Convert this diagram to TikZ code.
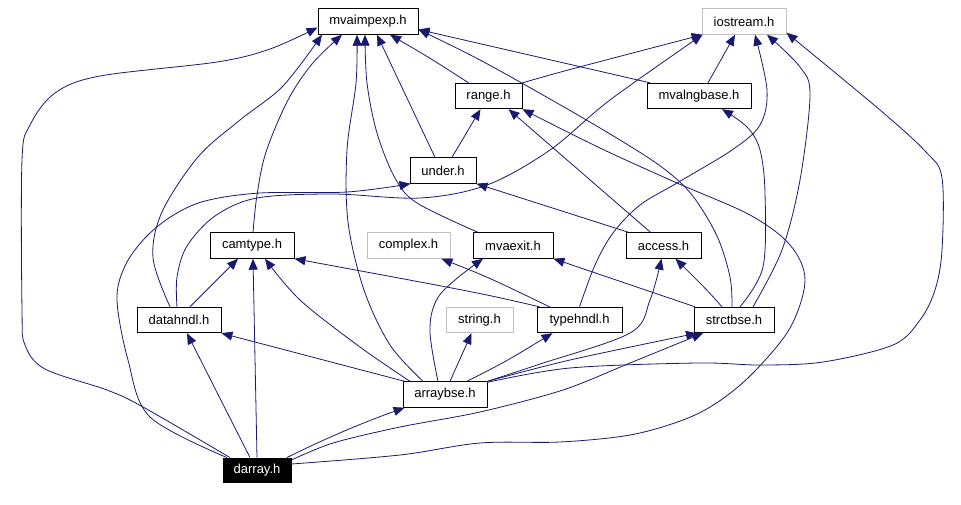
\documentclass[tikz,border=0pt]{standalone}
\usepackage{fontspec}
\setmainfont{Liberation Sans}
\usetikzlibrary{arrows.meta}
\definecolor{edgec}{HTML}{191970}
\definecolor{grayc}{HTML}{BFBFBF}
\tikzset{
  box/.style={draw=black, line width=0.9pt, fill=white, rectangle, minimum height=25.5pt, inner sep=0pt, font=\fontsize{13}{15}\selectfont},
  gbox/.style={box, draw=grayc},
  dbox/.style={box, fill=black, text=white},
  edge/.style={draw=edgec, line width=0.8pt, -{Triangle[length=11pt,width=9pt]}},
}
\begin{document}
\begin{tikzpicture}[x=1pt,y=-1pt]
\useasboundingbox (0,0) rectangle (961,504);
% nodes
\node[box, minimum width=100pt] (mvaimpexp) at (368,21.5) {mvaimpexp.h};
\node[gbox, minimum width=84pt] (iostream) at (744,21.5) {iostream.h};
\node[box, minimum width=67pt] (range) at (488.5,96) {range.h};
\node[box, minimum width=104pt] (mvalngbase) at (699,96) {mvalngbase.h};
\node[box, minimum width=66pt] (under) at (443,170.5) {under.h};
\node[box, minimum width=84pt] (camtype) at (252,245.5) {camtype.h};
\node[gbox, minimum width=83pt] (complex) at (408.5,245.5) {complex.h};
\node[box, minimum width=80pt] (mvaexit) at (513,245.5) {mvaexit.h};
\node[box, minimum width=75pt] (access) at (663.5,245.5) {access.h};
\node[box, minimum width=84pt] (datahndl) at (179,320) {datahndl.h};
\node[gbox, minimum width=67pt] (string) at (479.5,320) {string.h};
\node[box, minimum width=85pt] (typehndl) at (579.5,320) {typehndl.h};
\node[box, minimum width=80pt] (strctbse) at (734,320) {strctbse.h};
\node[box, minimum width=84pt] (arraybse) at (445,394.5) {arraybse.h};
\node[dbox, minimum width=68pt, minimum height=24pt] (darray) at (257,470) {darray.h};

% darray.h
\draw[edge] plot[smooth, tension=0.55] coordinates {([xshift=-27pt]darray.north) (143,407) (107,390) (45,369) (25,345) (22,310) (22,160) (30,125) (55,93) (100,76) (217,62) (270,49) ([yshift=-6pt]mvaimpexp.west)};
\draw[edge] plot[smooth, tension=0.55] coordinates {([xshift=-30pt]darray.north) (150,417) (128,360) (117,300) (125,266) (145,238) (172,216) (205,201) (260,193) (347,192) ([xshift=1pt]under.south west)};
\draw[edge] ([xshift=-7pt]darray.north) -- ([xshift=8pt]datahndl.south);
\draw[edge] (darray.north) -- ([xshift=1pt]camtype.south);
\draw[edge] ([xshift=30pt]darray.north) .. controls (330,436) and (370,420) .. ([xshift=2pt]arraybse.south west);
\draw[edge] plot[smooth, tension=0.5] coordinates {([yshift=10pt]darray.east) (333,443) (400,427) (480,412) (563,390) (630,363) ([xshift=-31pt]strctbse.south)};
\draw[edge] plot[smooth, tension=0.55] coordinates {([yshift=6pt]darray.east) (400,455) (480,443) (560,442) (630,435) (683,420) (718,402) (753,373) (790,328) (805,280) (790,245) (750,215) (677,183) (600,148) (range.south east)};

% datahndl.h
\draw[edge] plot[smooth, tension=0.55] coordinates {([xshift=-9pt]datahndl.north) (153,258) (162,212) (198,157) (240,120) (283,86) ([xshift=-46pt]mvaimpexp.south)};
\draw[edge] ([xshift=11pt]datahndl.north) -- ([xshift=-14pt]camtype.south);
\draw[edge] plot[smooth, tension=0.55] coordinates {([xshift=-2pt]datahndl.north) (177,277) (187,246) (215,216) (257,198) (333,194) (420,198) (487,185) (550,150) (610,100) ([xshift=1pt]iostream.south west)};

% camtype.h
\draw[edge] plot[smooth, tension=0.55] coordinates {([xshift=1pt]camtype.north) (257,195) (266,152) (288,100) (312,64) ([xshift=-26pt]mvaimpexp.south)};

% arraybse.h
\draw[edge] plot[smooth, tension=0.55] coordinates {([xshift=-22pt]arraybse.north) (390,345) (364,290) (348,222) (347,150) (356,83) ([xshift=-11pt]mvaimpexp.south)};
\draw[edge] ([xshift=2pt]arraybse.north west) -- (datahndl.south east);
\draw[edge] plot[smooth, tension=0.55] coordinates {([xshift=-35pt]arraybse.north) (360,347) (300,300) ([xshift=13pt]camtype.south)};
\draw[edge] plot[smooth, tension=0.6] coordinates {([xshift=-7pt]arraybse.north) (430,332) (436,301) (455,280) ([xshift=-30pt]mvaexit.south)};
\draw[edge] ([xshift=5pt]arraybse.north) -- ([xshift=-8pt]string.south);
\draw[edge] ([xshift=22pt]arraybse.north) .. controls (505,362) .. ([xshift=-27pt]typehndl.south);
\draw[edge] plot[smooth, tension=0.55] coordinates {(arraybse.north east) (537,365) (630,333) (650,300) ([xshift=-2pt]access.south)};
\draw[edge] plot[smooth, tension=0.5] coordinates {(arraybse.north east) (570,360) ([xshift=-37pt]strctbse.south)};
\draw[edge] plot[smooth, tension=0.55] coordinates {([yshift=-1pt]arraybse.north east) (570,368) (697,363) (760,365) (823,362) (893,345) (920,320) (935,290) (942,250) (942,178) (926,152) (880,110) ([yshift=2pt]iostream.south east)};

% mvaexit.h, under.h, range.h, mvalngbase.h
\draw[edge] plot[smooth, tension=0.55] coordinates {([xshift=-35pt]mvaexit.north) (417,203) (395,178) (377,133) (367,83) ([xshift=-3pt]mvaimpexp.south)};
\draw[edge] ([xshift=-8pt]under.north) -- ([xshift=9pt]mvaimpexp.south);
\draw[edge] ([xshift=9pt]under.north) -- ([xshift=-8pt]range.south);
\draw[edge] ([xshift=-20pt]range.north) .. controls (430,58) .. ([xshift=22pt]mvaimpexp.south);
\draw[edge] (range.north east) .. controls (560,72) .. ([xshift=1pt]iostream.south west);
\draw[edge] ([xshift=-49pt]mvalngbase.north) -- ([yshift=-8pt]mvaimpexp.east);
\draw[edge] ([xshift=9pt]mvalngbase.north) -- ([xshift=-9pt]iostream.south);

% access.h
\draw[edge] ([xshift=-13pt]access.north) -- ([xshift=20pt]range.south);
\draw[edge] ([xshift=-35pt]access.north) -- (under.south east);

% typehndl.h
\draw[edge] plot[smooth, tension=0.55] coordinates {(typehndl.north) (595,265) (613,233) (640,205) (677,183) (732,150) (760,125) (767,90) ([xshift=11pt]iostream.south)};
\draw[edge] ([xshift=-30pt]typehndl.north) .. controls (490,278) .. ([xshift=33pt]complex.south);
\draw[edge] ([xshift=-40pt]typehndl.north) .. controls (480,293) .. (camtype.south east);

% strctbse.h
\draw[edge] plot[smooth, tension=0.55] coordinates {([xshift=-2pt]strctbse.north) (730,277) (717,236) (692,195) (663,168) (620,140) (557,103) (480,60) ([yshift=-8pt]mvaimpexp.east)};
\draw[edge] plot[smooth, tension=0.55] coordinates {([xshift=19pt]strctbse.north) (782,250) (800,180) (810,95) (800,67) ([xshift=23pt]iostream.south)};
\draw[edge] plot[smooth, tension=0.55] coordinates {([xshift=6pt]strctbse.north) (763,267) (765,193) (760,150) (747,127) ([xshift=23pt]mvalngbase.south)};
\draw[edge] ([xshift=-12pt]strctbse.north) .. controls (707,290) .. ([xshift=12pt]access.south);
\draw[edge] ([xshift=-39pt]strctbse.north) -- (mvaexit.south east);
\end{tikzpicture}
\end{document}
